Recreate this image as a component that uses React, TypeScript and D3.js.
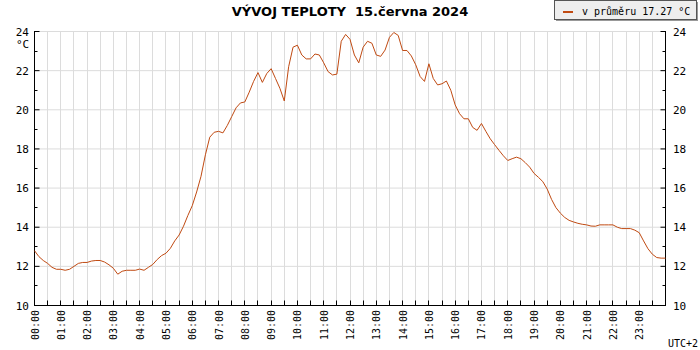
import React, { useRef, useEffect } from 'react';
import * as d3 from 'd3';

// 10-minute readings, 00:00 .. 24:00
const temps: number[] = [
  12.8, 12.5, 12.3, 12.15, 11.95, 11.85, 11.85, 11.8, 11.85, 12.0,
  12.15, 12.2, 12.2, 12.27, 12.3, 12.3, 12.22, 12.08, 11.9, 11.6,
  11.75, 11.8, 11.8, 11.8, 11.86, 11.8, 11.95, 12.1, 12.35, 12.55,
  12.67, 12.92, 13.3, 13.6, 14.05, 14.6, 15.1, 15.8, 16.6, 17.7,
  18.6, 18.85, 18.9, 18.82, 19.2, 19.65, 20.1, 20.35, 20.4, 20.9,
  21.45, 21.9, 21.4, 21.85, 22.1, 21.6, 21.1, 20.45, 22.2, 23.2,
  23.3, 22.8, 22.6, 22.6, 22.85, 22.8, 22.4, 21.95, 21.78, 21.82,
  23.5, 23.85, 23.6, 22.8, 22.4, 23.2, 23.5, 23.4, 22.8, 22.73,
  23.05, 23.7, 23.95, 23.8, 23.03, 23.03, 22.75, 22.3, 21.7, 21.45,
  22.35, 21.6, 21.27, 21.33, 21.47, 21.0, 20.25, 19.8, 19.54, 19.54,
  19.1, 18.95, 19.3, 18.9, 18.52, 18.22, 17.93, 17.65, 17.41, 17.5,
  17.58, 17.5, 17.3, 17.07, 16.75, 16.55, 16.33, 15.95, 15.42, 15.0,
  14.72, 14.5, 14.35, 14.27, 14.2, 14.15, 14.12, 14.06, 14.05, 14.12,
  14.12, 14.12, 14.12, 14.0, 13.93, 13.93, 13.93, 13.85, 13.72, 13.3,
  12.9, 12.62, 12.45, 12.42, 12.42,
];
const STEP_MIN = 10;

const hourLabels = [
  '00:00', '01:00', '02:00', '03:00', '04:00', '05:00', '06:00', '07:00',
  '08:00', '09:00', '10:00', '11:00', '12:00', '13:00', '14:00', '15:00',
  '16:00', '17:00', '18:00', '19:00', '20:00', '21:00', '22:00', '23:00',
];
const yMajor = [10, 12, 14, 16, 18, 20, 22, 24];
const yMinor = [11, 13, 15, 17, 19, 21, 23];

const title = 'VÝVOJ TEPLOTY  15.června 2024';
const legendText = 'v průměru 17.27 °C';
const lineColor = '#c04a12';
const mono = '"DejaVu Sans Mono", monospace';

export default function App() {
  const ref = useRef<SVGSVGElement>(null);

  useEffect(() => {
    const svg = d3.select(ref.current);
    svg.selectAll('*').remove();

    const x = d3.scaleLinear().domain([0, 24 * 60]).range([34.5, 665.5]);
    const y = d3.scaleLinear().domain([10, 24]).range([305.5, 31.5]);
    const halfHours = d3.range(0, 24 * 60 + 1, 30);

    // grid
    const grid = svg.append('g').attr('stroke', '#dcdcdc').attr('stroke-width', 1);
    halfHours.slice(1, -1).forEach(m => {
      const gx = Math.round(x(m) - 0.5) + 0.5;
      grid.append('line').attr('x1', gx).attr('x2', gx).attr('y1', y(24)).attr('y2', y(10));
    });
    yMajor.slice(1).forEach(v => {
      grid.append('line').attr('x1', x(0)).attr('x2', x(1440)).attr('y1', y(v)).attr('y2', y(v));
    });

    // axes
    const ax = svg.append('g').attr('stroke', '#000').attr('stroke-width', 1);
    ax.append('line').attr('x1', x(0)).attr('x2', x(0)).attr('y1', y(24) - 0.5).attr('y2', y(10) + 0.5);
    ax.append('line').attr('x1', x(1440)).attr('x2', x(1440)).attr('y1', y(24) - 0.5).attr('y2', y(10) + 0.5);
    ax.append('line').attr('x1', x(0)).attr('x2', x(1440)).attr('y1', y(10)).attr('y2', y(10));
    yMajor.forEach(v => {
      ax.append('line').attr('x1', x(0)).attr('x2', x(0) + 5).attr('y1', y(v)).attr('y2', y(v));
      ax.append('line').attr('x1', x(1440) - 5).attr('x2', x(1440)).attr('y1', y(v)).attr('y2', y(v));
    });
    yMinor.forEach(v => {
      const yy = Math.round(y(v) - 0.5) + 0.5;
      ax.append('line').attr('x1', x(0)).attr('x2', x(0) + 3).attr('y1', yy).attr('y2', yy);
      ax.append('line').attr('x1', x(1440) - 3).attr('x2', x(1440)).attr('y1', yy).attr('y2', yy);
    });
    halfHours.slice(1, -1).forEach(m => {
      const gx = Math.round(x(m) - 0.5) + 0.5;
      ax.append('line').attr('x1', gx).attr('x2', gx).attr('y1', y(10) - 5).attr('y2', y(10));
    });

    // y labels
    const lab = svg.append('g').attr('font-family', mono).attr('font-size', 11).attr('fill', '#000');
    yMajor.forEach(v => {
      lab.append('text').attr('x', 29).attr('y', y(v) + 4).attr('text-anchor', 'end').text(v);
      lab.append('text').attr('x', 673).attr('y', y(v) + 4).text(v);
    });
    lab.append('text').attr('x', 16).attr('y', 48).text('°C');

    // x labels
    hourLabels.forEach((t, i) => {
      const tx = x(i * 60) + 4;
      lab.append('text')
        .attr('transform', `translate(${tx},310) rotate(-90)`)
        .attr('text-anchor', 'end')
        .attr('font-size', 10)
        .text(t);
    });
    lab.append('text').attr('x', 668).attr('y', 347).attr('font-size', 10).text('UTC+2');

    // series
    const line = d3.line<number>()
      .x((_, i) => x(i * STEP_MIN))
      .y(d => y(d));
    svg.append('path')
      .datum(temps)
      .attr('fill', 'none')
      .attr('stroke', lineColor)
      .attr('stroke-width', 1)
      .attr('d', line);

    // title (keeps the double space)
    svg.append('text')
      .attr('x', 350).attr('y', 16)
      .attr('text-anchor', 'middle')
      .attr('font-family', '"DejaVu Sans", sans-serif')
      .attr('font-weight', 'bold')
      .attr('font-size', 13)
      .style('white-space', 'pre')
      .text(title);

    // legend
    const lg = svg.append('g');
    lg.append('rect').attr('x', 556).attr('y', 2).attr('width', 142).attr('height', 19).attr('fill', '#999');
    lg.append('rect').attr('x', 554.5).attr('y', 0.5).attr('width', 142).attr('height', 19)
      .attr('fill', '#eeeeee').attr('stroke', '#555');
    lg.append('line').attr('x1', 563).attr('x2', 573).attr('y1', 12).attr('y2', 12)
      .attr('stroke', lineColor).attr('stroke-width', 2);
    lg.append('text').attr('x', 582).attr('y', 15).attr('font-family', mono).attr('font-size', 10)
      .text(legendText);
  }, []);

  return (
    <svg ref={ref} width={700} height={350}
      style={{ position: 'absolute', left: 0, top: 0, background: '#fff' }} />
  );
}
